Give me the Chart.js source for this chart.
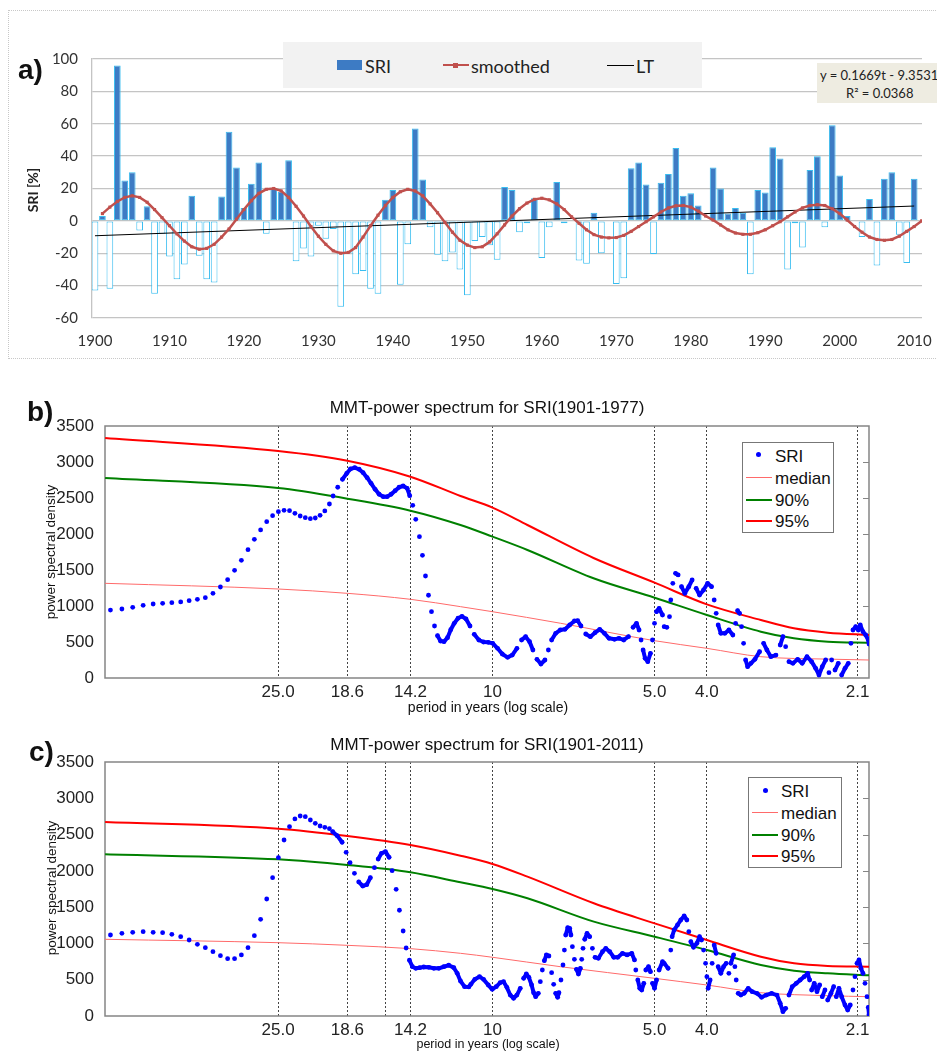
<!DOCTYPE html>
<html><head><meta charset="utf-8">
<script src="https://cdn.jsdelivr.net/npm/chart.js@4.4.1/dist/chart.umd.min.js"></script>
<style>
html,body{margin:0;padding:0;background:#fff;}
body{width:937px;height:1051px;overflow:hidden;position:relative;font-family:"Liberation Sans",Arial,sans-serif;color:#111;}
canvas{position:absolute;left:0;}
.t{position:absolute;white-space:nowrap;line-height:1;}
.xl{font-family:Lato,"Open Sans",sans-serif;color:#222;}
.ln{position:absolute;height:0;}
</style></head><body>
<div style="position:absolute;left:8px;top:10px;width:940px;height:347px;border:1px dotted #c8c8c8;"></div>
<canvas id="ca" width="937" height="365" style="top:0"></canvas>
<canvas id="cb" width="937" height="340" style="top:365px"></canvas>
<canvas id="cc" width="937" height="346" style="top:705px"></canvas>

<!-- panel a -->
<div class="t" style="left:18px;top:70px;font:bold 28px 'Liberation Sans';transform:translateY(-50%)">a)</div>
<div class="t xl" style="left:33px;top:190px;font-weight:bold;font-size:14px;transform:translate(-50%,-50%) rotate(-90deg)">SRI [%]</div>
<div style="position:absolute;left:283px;top:42px;width:419px;height:46px;background:#f2f2f2;"></div>
<div style="position:absolute;left:337px;top:60px;width:25px;height:10px;background:#3d7bc4;"></div>
<div class="t xl" style="left:365px;top:66px;font-size:18px;transform:translateY(-50%)">SRI</div>
<div class="ln" style="left:443px;top:64px;width:26px;border-top:2.5px solid #c0504d;"></div>
<div style="position:absolute;left:453px;top:63px;width:5px;height:5px;background:#c0504d;"></div>
<div class="t xl" style="left:471px;top:66px;font-size:18px;transform:translateY(-50%)">smoothed</div>
<div class="ln" style="left:607px;top:65px;width:27px;border-top:1px solid #000;"></div>
<div class="t xl" style="left:636px;top:66px;font-size:18px;transform:translateY(-50%)">LT</div>
<div style="position:absolute;left:817px;top:63px;width:130px;height:40px;background:#eeece1;"></div>
<div class="t xl" style="left:820px;top:75px;font-size:13px;transform:translateY(-50%)">y = 0.1669t - 9.3531</div>
<div class="t xl" style="left:846px;top:93px;font-size:13px;transform:translateY(-50%)">R² = 0.0368</div>

<!-- panel b -->
<div class="t" style="left:27px;top:412px;font:bold 28px 'Liberation Sans';transform:translateY(-50%)">b)</div>
<div class="t" style="left:487px;top:407px;font-size:17px;transform:translate(-50%,-50%)">MMT-power spectrum for SRI(1901-1977)</div>
<div class="t" style="left:51px;top:552px;font-size:13.5px;transform:translate(-50%,-50%) rotate(-90deg)">power spectral density</div>
<div class="t" style="left:488px;top:707px;font-size:14px;transform:translate(-50%,-50%)">period in years (log scale)</div>
<div style="position:absolute;left:742px;top:442px;width:90px;height:89px;border:1px solid #777;background:#fff;"></div>
<div style="position:absolute;left:756px;top:452px;width:5px;height:5px;border-radius:50%;background:#0000ff;"></div>
<div class="t" style="left:775px;top:456px;font-size:17px;transform:translateY(-50%)">SRI</div>
<div class="ln" style="left:746px;top:477px;width:26px;border-top:1px solid #ff6a6a;"></div>
<div class="t" style="left:775px;top:478px;font-size:17px;transform:translateY(-50%)">median</div>
<div class="ln" style="left:746px;top:499px;width:26px;border-top:2px solid #008000;"></div>
<div class="t" style="left:775px;top:500px;font-size:17px;transform:translateY(-50%)">90%</div>
<div class="ln" style="left:746px;top:520px;width:26px;border-top:2px solid #ff0000;"></div>
<div class="t" style="left:775px;top:521px;font-size:17px;transform:translateY(-50%)">95%</div>

<!-- panel c -->
<div class="t" style="left:29px;top:752px;font:bold 28px 'Liberation Sans';transform:translateY(-50%)">c)</div>
<div class="t" style="left:487px;top:744px;font-size:17px;transform:translate(-50%,-50%)">MMT-power spectrum for SRI(1901-2011)</div>
<div class="t" style="left:52px;top:888px;font-size:13.5px;transform:translate(-50%,-50%) rotate(-90deg)">power spectral density</div>
<div class="t" style="left:488px;top:1044px;font-size:12.5px;transform:translate(-50%,-50%)">period in years (log scale)</div>
<div style="position:absolute;left:748px;top:777px;width:92px;height:89px;border:1px solid #777;background:#fff;"></div>
<div style="position:absolute;left:763px;top:788px;width:5px;height:5px;border-radius:50%;background:#0000ff;"></div>
<div class="t" style="left:781px;top:791px;font-size:17px;transform:translateY(-50%)">SRI</div>
<div class="ln" style="left:752px;top:812px;width:26px;border-top:1px solid #ff6a6a;"></div>
<div class="t" style="left:781px;top:813px;font-size:17px;transform:translateY(-50%)">median</div>
<div class="ln" style="left:752px;top:834px;width:26px;border-top:2px solid #008000;"></div>
<div class="t" style="left:781px;top:835px;font-size:17px;transform:translateY(-50%)">90%</div>
<div class="ln" style="left:752px;top:855px;width:26px;border-top:2px solid #ff0000;"></div>
<div class="t" style="left:781px;top:856px;font-size:17px;transform:translateY(-50%)">95%</div>

<script>
// ---------------- Panel a data ----------------
const barYears = Array.from({length: 111}, (_, i) => 1900 + i);
const sriPercent = [
 -43, 3, -42, 96, 25, 30, -6, 9, -45, -8,
 -22, -36, -27, 15.5, -21.5, -36, -38, 15, 55, 33,
 8, 23, 36, -8, 20, 18, 37.5, -25, -17, -22,
 -3, -11, -5, -53, -20, -33, -31, -42, -45, 13,
 19, -39.5, -14.5, 57, 25.5, -4, -21, -25, -19.5, -30,
 -46, -12.5, -10, -15, -24, 21, 19, -7, -1.5, 14,
 -23, -4, 24, -1.5, 0, -24.5, -26.5, 5, -20, 0,
 -39, -35.5, 32.5, 36, 22.5, -20.5, 23.5, 29, 45, 15.5,
 17, 9.5, 0, 33, 20, 4.5, 8, 5, -33, 19,
 17.5, 45.5, 38.5, -30, -1.5, -16.5, 31.5, 40, -4, 59,
 28, 3, 0, -10, 13.5, -27.5, 26, 30, -8.5, -26,
 26
];
const smoothYears = Array.from({length: 111}, (_, i) => 1901 + i);
const smoothed = [
 4.5, 8.5, 12, 14.5, 15.5, 14.5, 11.5, 7, 2, -3,
 -8, -12.5, -16, -17.5, -17, -14.5, -10, -5, 1, 7,
 12.5, 17, 19.5, 20, 18.5, 14.5, 9, 3, -3.5, -9.5,
 -14.5, -18.5, -20, -19.5, -16.5, -10, -3, 3.5, 9.5, 14.5,
 18, 19.5, 18.5, 15.5, 10.5, 5, -1, -7, -12, -15,
 -16.5, -16, -13, -8, -2.5, 3, 7.5, 11, 13.3, 14,
 13, 10.5, 7, 2.5, -1.5, -5.5, -8.5, -10, -10.5, -10.3,
 -9, -6.5, -3.5, -0.5, 2.5, 5.5, 8, 9.3, 9.5, 8.5,
 6, 3, 0.5, -2.5, -5.5, -7.5, -8.3, -8.3, -7.3, -5.5,
 -3, -0.5, 2.5, 5.5, 8, 9.5, 10, 9.5, 7.5, 4.5,
 0.5, -3.5, -7, -10, -11.5, -12, -11.5, -9.5, -6.5, -3.5, 0
];
const ltYears = [1900, 2010];
const ltValues = [-9.19, 9.17];
const yearTicks = [1900, 1910, 1920, 1930, 1940, 1950, 1960, 1970, 1980, 1990, 2000, 2010];
const sriTicks = [-60, -40, -20, 0, 20, 40, 60, 80, 100];

// ---------------- Panels b/c data ----------------
// frequency (cycles per year) of the widely spaced low-frequency estimates
const lowFreq = [0.01953,0.02051,0.02148,0.02246,0.02344,0.02441,0.02539,0.02637,0.02734,0.02832,0.0293,0.03027,0.03125,0.03223,0.0332,0.03418,0.03516,0.03613,0.03711,0.03809,0.03906,0.04004,0.04102,0.04199,0.04297,0.04395,0.04492,0.0459,0.04688,0.04785,0.04883,0.0498];
const bLowPSD = [944,958,982,1010,1028,1037,1046,1056,1074,1093,1116,1176,1264,1366,1496,1634,1782,1926,2056,2171,2254,2310,2329,2324,2287,2250,2227,2213,2222,2259,2320,2417];
const cLowPSD = [1116,1139,1153,1162,1153,1148,1125,1093,1047,988,942,886,831,790,790,841,942,1107,1332,1612,1906,2181,2425,2609,2715,2756,2747,2701,2655,2618,2600,2581];
// [frequency, PSD]
const bHighPSD = [[0.05059,2528],[0.0516,2649],[0.05265,2760],[0.05363,2843],[0.05447,2903],[0.05549,2921],[0.05654,2899],[0.05752,2852],[0.05851,2782],[0.05951,2704],[0.06055,2621],[0.06159,2552],[0.06266,2519],[0.06374,2519],[0.06483,2552],[0.06596,2602],[0.06708,2649],[0.06825,2667],[0.06943,2635],[0.07019,2532],[0.07111,2398],[0.07203,2204],[0.07317,1963],[0.07412,1704],[0.07509,1417],[0.07606,1149],[0.07704,921],[0.07804,722],[0.07905,588],[0.08006,514],[0.08128,505],[0.0825,560],[0.08365,670],[0.0849,760],[0.0863,830],[0.08777,857],[0.0893,820],[0.09083,722],[0.09249,607],[0.09432,528],[0.09624,500],[0.09819,495],[0.1001,482],[0.10218,412],[0.10425,333],[0.10665,287],[0.10881,319],[0.111,412],[0.11323,528],[0.11521,574],[0.11718,505],[0.11886,389],[0.12092,260],[0.12299,194],[0.12513,250],[0.12696,389],[0.12875,528],[0.131,621],[0.13364,667],[0.13633,676],[0.13908,736],[0.14192,792],[0.14394,796],[0.14597,722],[0.14896,611],[0.15195,574],[0.155,629],[0.15813,676],[0.16137,621],[0.16457,551],[0.16843,537],[0.17177,551],[0.17527,528],[0.17882,574],[0.18238,704],[0.18506,760],[0.18712,667],[0.18871,528],[0.19036,389],[0.192,273],[0.19423,227],[0.19645,343],[0.19816,528],[0.19988,760],[0.2016,921],[0.20384,968],[0.20682,875],[0.2083,713],[0.21068,704],[0.2131,852],[0.21427,1083],[0.21614,1315],[0.21867,1454],[0.22111,1431],[0.22432,1269],[0.22755,1176],[0.23146,1269],[0.23475,1361],[0.23883,1246],[0.2423,1153],[0.24651,1222],[0.25077,1315],[0.25506,1269],[0.25795,1083],[0.26017,898],[0.26239,736],[0.26539,621],[0.27003,621],[0.27468,667],[0.27942,597],[0.28269,760],[0.28511,935],[0.28754,898],[0.28999,713],[0.29252,482],[0.29505,250],[0.29757,157],[0.30174,204],[0.30702,260],[0.31322,366],[0.31866,482],[0.3232,389],[0.32871,296],[0.3359,319],[0.34207,458],[0.34608,574],[0.35013,435],[0.35507,227],[0.3612,204],[0.36856,260],[0.37585,204],[0.38353,296],[0.39126,227],[0.39808,134],[0.40371,42],[0.40943,157],[0.41547,250],[0.42134,74],[0.42619,250],[0.43233,111],[0.43846,204],[0.44484,42],[0.45123,134],[0.45763,204],[0.46286,482],[0.4669,667],[0.47236,713],[0.47762,667],[0.48166,736],[0.4873,643],[0.49299,597],[0.49848,528],[0.5,472]];
const cHighPSD = [[0.0505,2540],[0.05147,2485],[0.05258,2394],[0.05349,2256],[0.0544,2113],[0.05542,1966],[0.05645,1847],[0.05742,1791],[0.05841,1809],[0.05933,1906],[0.06037,2044],[0.06133,2163],[0.0622,2242],[0.06328,2264],[0.06428,2187],[0.06511,2002],[0.06624,1746],[0.06717,1457],[0.06825,1171],[0.06913,937],[0.07011,768],[0.07102,679],[0.07203,657],[0.07326,666],[0.07454,675],[0.07615,671],[0.07781,657],[0.07949,657],[0.08121,679],[0.08295,699],[0.08475,666],[0.086,588],[0.0872,482],[0.08873,404],[0.09037,400],[0.09114,437],[0.09273,505],[0.09459,542],[0.09624,505],[0.09819,427],[0.09989,368],[0.10162,404],[0.10335,459],[0.10484,473],[0.10633,395],[0.10787,289],[0.10943,244],[0.11099,289],[0.1126,382],[0.11422,519],[0.11555,579],[0.11683,533],[0.11819,427],[0.11922,321],[0.12025,266],[0.12164,313],[0.12268,473],[0.12374,634],[0.12481,762],[0.12589,841],[0.12728,827],[0.12875,597],[0.12988,437],[0.131,313],[0.13212,258],[0.13285,321],[0.13399,496],[0.13516,703],[0.13597,909],[0.13674,1116],[0.13791,1217],[0.13908,1208],[0.13984,1116],[0.1407,955],[0.14192,781],[0.14315,643],[0.14437,579],[0.1456,657],[0.14642,781],[0.14724,932],[0.14832,1057],[0.14979,1139],[0.1515,1093],[0.15327,932],[0.155,809],[0.15727,795],[0.16,886],[0.16228,932],[0.16506,886],[0.16793,809],[0.17083,809],[0.17429,864],[0.17776,841],[0.18135,864],[0.18348,772],[0.18451,634],[0.18609,496],[0.18767,382],[0.18928,358],[0.19093,450],[0.19258,634],[0.1948,679],[0.19645,611],[0.19816,450],[0.19988,382],[0.2016,496],[0.20384,634],[0.20682,748],[0.2083,726],[0.21185,657],[0.21427,909],[0.21549,1093],[0.21736,1185],[0.22055,1254],[0.22364,1323],[0.22687,1378],[0.22951,1323],[0.23146,1162],[0.23342,1024],[0.23618,947],[0.23955,1002],[0.2423,1093],[0.24438,1047],[0.24651,909],[0.24864,726],[0.25002,542],[0.2514,382],[0.25353,496],[0.25572,726],[0.25795,978],[0.26017,864],[0.26239,679],[0.26539,588],[0.26852,679],[0.27154,726],[0.27468,588],[0.277,726],[0.28027,841],[0.28184,679],[0.28342,496],[0.28584,313],[0.28911,289],[0.29328,313],[0.29833,382],[0.30346,335],[0.30966,313],[0.3159,258],[0.32224,289],[0.32972,313],[0.33733,289],[0.34207,175],[0.34608,59],[0.35013,106],[0.35507,289],[0.36011,404],[0.36637,450],[0.37263,496],[0.37912,542],[0.38468,588],[0.38795,496],[0.39126,358],[0.3957,450],[0.4003,335],[0.4049,427],[0.40943,266],[0.41423,358],[0.41903,220],[0.42489,313],[0.42991,404],[0.43474,266],[0.43976,382],[0.44484,266],[0.45123,152],[0.45646,83],[0.4615,152],[0.4669,358],[0.47095,542],[0.47499,726],[0.47904,772],[0.48308,657],[0.4873,588],[0.49152,450],[0.49573,266],[0.4985,120],[0.5,20]];
const bMedian = [[0.01909,1315],[0.04,1236],[0.05376,1176],[0.0704,1093],[0.0872,991],[0.1,921],[0.1338,760],[0.2,518],[0.25,412],[0.3149,296],[0.4196,262],[0.5,250]];
const b90 = [[0.01909,2778],[0.04,2639],[0.05376,2491],[0.0704,2324],[0.0872,2125],[0.1,1963],[0.1161,1778],[0.154,1385],[0.2,1115],[0.25,875],[0.3149,643],[0.3626,551],[0.4196,505],[0.5,491]];
const b95 = [[0.01909,3333],[0.04,3153],[0.05376,3018],[0.0704,2796],[0.0872,2528],[0.1,2366],[0.1161,2125],[0.154,1667],[0.2,1324],[0.25,1023],[0.3149,806],[0.3626,690],[0.4196,630],[0.5,597]];
const cMedian = [[0.01909,1057],[0.04,1010],[0.05376,974],[0.0704,928],[0.0872,864],[0.1,809],[0.1338,679],[0.2,519],[0.25,427],[0.3149,321],[0.419,280],[0.5,266]];
const c90 = [[0.01909,2228],[0.04,2159],[0.05376,2081],[0.0704,1980],[0.0872,1842],[0.1,1750],[0.1161,1622],[0.1542,1300],[0.2,1093],[0.25,909],[0.3149,703],[0.363,624],[0.419,588],[0.5,561]];
const c95 = [[0.01909,2673],[0.04,2581],[0.05376,2480],[0.0704,2356],[0.0872,2209],[0.1,2095],[0.1161,1920],[0.1542,1553],[0.2,1277],[0.25,1047],[0.3149,817],[0.363,726],[0.419,689],[0.5,679]];
const bPeriodTicks = [25, 18.6, 14.2, 10, 5, 4, 2.1];
const bPeriodLabels = ['25.0', '18.6', '14.2', '10', '5.0', '4.0', '2.1'];
const cPeriodTicks = [25, 18.6, 15.8, 14.2, 10, 5, 4, 2.1];
const cPeriodLabels = ['25.0', '18.6', '', '14.2', '10', '5.0', '4.0', '2.1'];
const psdTicks = [0, 500, 1000, 1500, 2000, 2500, 3000, 3500];

Chart.defaults.font.family = "'Liberation Sans', Arial, sans-serif";

// ---------------- Panel a ----------------
new Chart(document.getElementById('ca'), {
  type: 'bar',
  data: {
    datasets: [
      { type: 'line', label: 'smoothed', data: smoothYears.map((x, i) => ({x, y: smoothed[i]})),
        borderColor: '#c0504d', borderWidth: 2.5, pointStyle: 'rect', pointRadius: 2.2,
        pointBackgroundColor: '#c0504d', pointBorderWidth: 0, tension: 0 },
      { type: 'line', label: 'LT', data: ltYears.map((x, i) => ({x, y: ltValues[i]})),
        borderColor: '#000', borderWidth: 1, pointRadius: 0 },
      { type: 'bar', label: 'SRI', data: barYears.map((x, i) => ({x, y: sriPercent[i]})),
        backgroundColor: c => (c.raw && c.raw.y < 0) ? '#ffffff' : '#3d7bc4',
        borderColor: '#38bdf0', borderWidth: 1, borderSkipped: false,
        barPercentage: 0.9, categoryPercentage: 1 }
    ]
  },
  options: {
    responsive: false, animation: false, events: [],
    layout: { padding: { left: 0, right: 15, top: 59, bottom: 0 } },
    plugins: { legend: { display: false }, tooltip: { enabled: false } },
    scales: {
      x: { type: 'linear', min: 1899.6, max: 2011.05, offset: false,
           grid: { display: false }, border: { display: false },
           afterBuildTicks: s => { s.ticks = yearTicks.map(v => ({value: v})); },
           ticks: { font: { family: 'Lato', size: 15 }, color: '#333', padding: 6, maxRotation: 0, autoSkip: false, callback: v => String(v) },
           afterFit: s => { s.height = 47; s.paddingLeft = 0; s.paddingRight = 0; } },
      y: { min: -60, max: 100,
           afterBuildTicks: s => { s.ticks = sriTicks.map(v => ({value: v})); },
           grid: { color: '#c4c4c4', lineWidth: 1.3, drawTicks: false },
           border: { display: true, color: '#c4c4c4', width: 1.3 },
           ticks: { font: { family: 'Lato', size: 15 }, color: '#333', padding: 14, callback: v => String(v) },
           afterFit: s => { s.width = 92; s.paddingTop = 0; s.paddingBottom = 0; } }
    }
  }
});

// ---------------- Panels b, c ----------------
const framePlugin = {
  id: 'frame',
  beforeDatasetsDraw(chart) {
    const {ctx, chartArea: a, scales: {y}} = chart;
    ctx.save();
    ctx.strokeStyle = '#858585'; ctx.lineWidth = 1.5;
    ctx.strokeRect(a.left, a.top, a.right - a.left, a.bottom - a.top);
    ctx.lineWidth = 1;
    psdTicks.forEach(v => {
      if (v <= 0 || v >= 3500) return;
      const py = Math.round(y.getPixelForValue(v)) + 0.5;
      ctx.beginPath(); ctx.moveTo(a.right, py); ctx.lineTo(a.right - 6, py); ctx.stroke();
    });
    ctx.restore();
  }
};

// dense high-frequency estimates merge into a band; the sparse low-frequency ones stay separate dots
function segColor(ctx) {
  if (ctx.p0DataIndex < lowFreq.length) return 'rgba(0,0,0,0)';
  const dx = ctx.p1.x - ctx.p0.x, dy = ctx.p1.y - ctx.p0.y;
  return Math.hypot(dx, dy) < 9 ? '#0000ff' : 'rgba(0,0,0,0)';
}

function spectrum(id, lowPSD, highPSD, med, p90, p95, periods, labels, padTop, xHeight) {
  const tickFreqs = periods.map(p => 1 / p);
  const pts = lowFreq.map((f, i) => ({x: f, y: lowPSD[i]})).concat(highPSD.map(([f, v]) => ({x: f, y: v})));
  const line = (arr, color, w) => ({ data: arr.map(([f, v]) => ({x: f, y: v})), showLine: true,
    borderColor: color, borderWidth: w, pointRadius: 0, cubicInterpolationMode: 'monotone' });
  new Chart(document.getElementById(id), {
    type: 'scatter',
    data: { datasets: [
      { label: 'SRI', data: pts, showLine: true, borderColor: '#0000ff', borderWidth: 4,
        borderJoinStyle: 'round', borderCapStyle: 'round',
        segment: { borderColor: segColor }, pointRadius: 2.4, pointBackgroundColor: '#0000ff',
        pointBorderWidth: 0 },
      Object.assign({label: 'median'}, line(med, '#ff6a6a', 1)),
      Object.assign({label: '90%'}, line(p90, '#008000', 2)),
      Object.assign({label: '95%'}, line(p95, '#ff0000', 2))
    ]},
    plugins: [framePlugin],
    options: {
      responsive: false, animation: false, events: [],
      layout: { padding: { left: 0, right: 68, top: padTop, bottom: 0 } },
      plugins: { legend: { display: false }, tooltip: { enabled: false } },
      scales: {
        x: { type: 'logarithmic', min: 0.01908, max: 0.5,
             afterBuildTicks: s => { s.ticks = tickFreqs.map(v => ({value: v})); },
             grid: { color: '#444', lineWidth: 1, drawTicks: false },
             border: { display: false, dash: [2, 2] },
             ticks: { font: { size: 17 }, color: '#222', padding: 4, maxRotation: 0, autoSkip: false,
                      callback: v => { const i = tickFreqs.findIndex(f => Math.abs(f - v) < 1e-9); return i >= 0 ? labels[i] : ''; } },
             afterFit: s => { s.height = xHeight; s.paddingLeft = 0; s.paddingRight = 0; } },
        y: { min: 0, max: 3500,
             afterBuildTicks: s => { s.ticks = psdTicks.map(v => ({value: v})); },
             grid: { display: false }, border: { display: false },
             ticks: { font: { size: 17 }, color: '#222', padding: 3, callback: v => String(v) },
             afterFit: s => { s.width = 105; s.paddingTop = 0; s.paddingBottom = 0; } }
      }
    }
  });
}

spectrum('cb', bLowPSD, bHighPSD, bMedian, b90, b95, bPeriodTicks, bPeriodLabels, 61, 27);
spectrum('cc', cLowPSD, cHighPSD, cMedian, c90, c95, cPeriodTicks, cPeriodLabels, 57, 35);
</script>
</body></html>
